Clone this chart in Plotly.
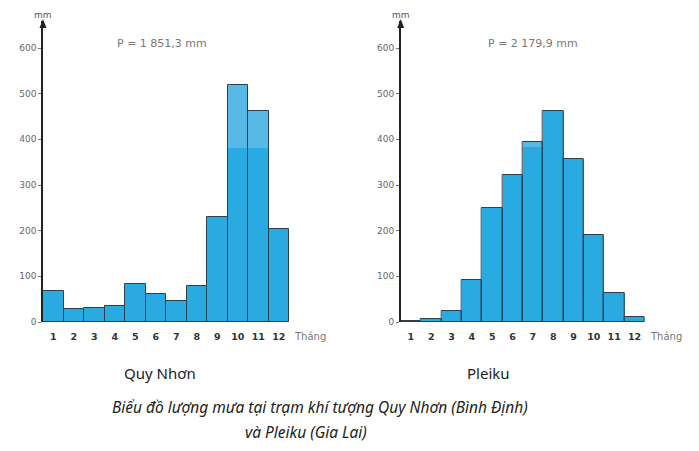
import plotly.graph_objects as go

months = list(range(1, 13))
month_labels = [str(m) for m in months]
quy_nhon = [67, 28, 31, 34, 84, 61, 45, 78, 230, 520, 462, 204]
pleiku = [2, 6, 24, 92, 249, 322, 395, 462, 358, 190, 63, 10]
y_ticks = [0, 100, 200, 300, 400, 500, 600]
station_names = ["Quy Nhơn", "Pleiku"]
totals = ["P = 1 851,3 mm", "P = 2 179,9 mm"]
# months whose top part is drawn in a lighter tint, and where the tint starts
light_q = {10: 381, 11: 381}
light_p = {7: 383}

W, H = 699, 451
DARK = "#29abe2"
LIGHT = "#58b8e6"
EDGE = "#2d3e4c"

fig = go.Figure()

def add_station(vals, light, xa, ya):
    light_vals = [v if (m in light) else 0 for m, v in zip(months, vals)]
    dark_vals = [min(v, light[m]) if m in light else v for m, v in zip(months, vals)]
    fig.add_trace(go.Bar(x=months, y=light_vals, width=1, marker=dict(color=LIGHT, line=dict(width=0)),
                         xaxis=xa, yaxis=ya, showlegend=False, hoverinfo="skip"))
    fig.add_trace(go.Bar(x=months, y=dark_vals, width=1, marker=dict(color=DARK, line=dict(width=0)),
                         xaxis=xa, yaxis=ya, showlegend=False))
    fig.add_trace(go.Bar(x=months, y=vals, width=1,
                         marker=dict(color="rgba(0,0,0,0)", line=dict(color=EDGE, width=1)),
                         xaxis=xa, yaxis=ya, showlegend=False, hoverinfo="skip"))

add_station(quy_nhon, light_q, "x", "y")
add_station(pleiku, light_p, "x2", "y2")

y0_px, ytop_px = 322, 21
ydom = [(H - y0_px) / H, (H - ytop_px) / H]
yrange = [0, 600 * (y0_px - ytop_px) / (322 - 48)]

def xaxis(dom):
    return dict(domain=dom, range=[0.5, 12.5], tickmode="array", tickvals=months,
                ticktext=[f"<b>{t}</b>" for t in month_labels], automargin=False,
                showline=False, showgrid=False, zeroline=False, ticks="",
                tickfont=dict(family="DejaVu Sans", size=9.5, color="#333"), ticklabelstandoff=7)

def yaxis(anchor):
    return dict(domain=ydom, range=yrange, anchor=anchor, tickmode="array", tickvals=y_ticks,
                automargin=False,
                showline=True, linecolor="#222", linewidth=1.5, showgrid=False, zeroline=False,
                ticks="outside", ticklen=3, tickcolor="#777", tickwidth=1,
                tickfont=dict(family="DejaVu Sans", size=9, color="#666"))

xl = [43 / W, 289 / W]
xr = [400.7 / W, 644.7 / W]

fig.update_layout(
    width=W, height=H, margin=dict(l=0, r=0, t=0, b=0, autoexpand=False),
    paper_bgcolor="white", plot_bgcolor="white", barmode="overlay", bargap=0,
    xaxis=xaxis(xl), yaxis=yaxis("x"),
    xaxis2=xaxis(xr), yaxis2=yaxis("x2"),
)

ann = []
shapes = []
for dom, name, tot, name_x, tot_x in [(xl, station_names[0], totals[0], 160, 162),
                                       (xr, station_names[1], totals[1], 488, 533)]:
    ax_px = dom[0] * W
    # arrowhead on y axis
    shapes.append(dict(type="path", xref="paper", yref="paper",
                       path=f"M {(ax_px-3.5)/W},{(H-28)/H} L {(ax_px+3.5)/W},{(H-28)/H} L {ax_px/W},{(H-19)/H} Z",
                       fillcolor="#222", line=dict(width=0)))
    ann.append(dict(text="mm", x=ax_px / W, y=(H - 15) / H, xref="paper", yref="paper", showarrow=False,
                    font=dict(family="DejaVu Sans", size=9, color="#555"), xanchor="center", yanchor="middle"))
    ann.append(dict(text="Tháng", x=(dom[1] * W + 3) / W, y=(H - 336) / H, xref="paper", yref="paper",
                    showarrow=False, font=dict(family="DejaVu Sans", size=10, color="#777"),
                    xanchor="left", yanchor="middle"))
    ann.append(dict(text=tot, x=tot_x / W, y=(H - 44) / H, xref="paper", yref="paper", showarrow=False,
                    font=dict(family="DejaVu Sans", size=11, color="#777"), xanchor="center", yanchor="middle"))
    ann.append(dict(text=name, x=name_x / W, y=(H - 373) / H, xref="paper", yref="paper", showarrow=False,
                    font=dict(family="Noto Sans", size=15, color="#222"), xanchor="center", yanchor="middle"))

ann.append(dict(text="<i>Biểu đồ lượng mưa tại trạm khí tượng Quy Nhơn (Bình Định)</i>", x=320 / W,
                y=(H - 407) / H, xref="paper", yref="paper", showarrow=False,
                font=dict(family="Noto Sans", size=15.5, color="#222"), xanchor="center", yanchor="middle"))
ann.append(dict(text="<i>và Pleiku (Gia Lai)</i>", x=306 / W, y=(H - 432) / H, xref="paper", yref="paper",
                showarrow=False, font=dict(family="Noto Sans", size=15.5, color="#222"),
                xanchor="center", yanchor="middle"))

fig.update_layout(annotations=ann, shapes=shapes)
fig.write_html("out.html", config={"displayModeBar": False},
               post_script="document.body.style.margin='0';document.body.style.padding='0';")
